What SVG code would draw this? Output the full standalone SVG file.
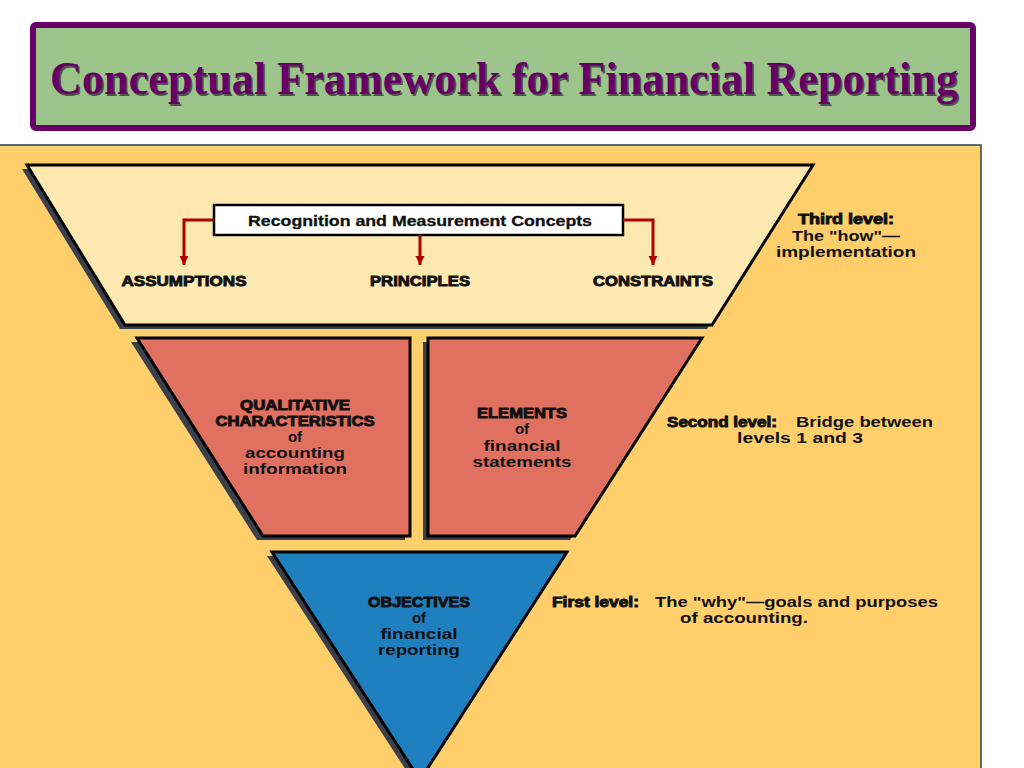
<svg xmlns="http://www.w3.org/2000/svg" width="1024" height="768" viewBox="0 0 1024 768">
  <defs>
    <style>
      .t { font-family: "Liberation Sans", Arial, sans-serif; font-weight: bold; fill: #111; text-anchor: middle; }
      .s { text-anchor: start; }
      .hv { stroke: #111; stroke-width: 0.9; }
      .shadow { fill: #3b3f4c; }
      .shape { stroke: #000; stroke-width: 3; stroke-linejoin: miter; }
      .conn { fill: none; stroke: #b00000; stroke-width: 3; }
      .title { font-family: "Liberation Serif", "Times New Roman", serif; font-weight: bold; font-size: 47px; text-anchor: middle; }
    </style>
    <marker id="arr" viewBox="0 0 10 10" refX="10" refY="5" markerUnits="userSpaceOnUse" markerWidth="9" markerHeight="11" orient="auto">
      <path d="M0,0 L10,5 L0,10 z" fill="#b00000"/>
    </marker>
  </defs>

  <rect x="0" y="0" width="1024" height="768" fill="#ffffff"/>

  <g id="title">
    <rect x="33" y="25" width="940" height="103" rx="3" fill="#9dc48b" stroke="#660066" stroke-width="6"/>
    <text class="title" x="505.5" y="95.5" fill="#333333" opacity="0.75" textLength="908" lengthAdjust="spacingAndGlyphs">Conceptual Framework for Financial Reporting</text>
    <text class="title" x="504" y="94" fill="#660066" textLength="908" lengthAdjust="spacingAndGlyphs">Conceptual Framework for Financial Reporting</text>
  </g>

  <g id="panel">
    <rect x="-2" y="145" width="983" height="630" fill="#fecf6a" stroke="#23474f" stroke-width="1.5"/>
  </g>

  <g id="node-third-level">
    <polygon class="shadow" points="22,169 808,169 707,329 120,329"/>
    <polygon class="shape" points="27,165 813,165 712,325 125,325" fill="#fde8b0"/>
    <g id="node-recognition">
      <rect x="214" y="205" width="409" height="30" fill="#ffffff" stroke="#000" stroke-width="2.5"/>
      <text class="t" x="420" y="226" font-size="14.5" stroke="#111" stroke-width="0.3" textLength="344" lengthAdjust="spacingAndGlyphs">Recognition and Measurement Concepts</text>
    </g>
    <text id="node-assumptions" class="t hv" x="184" y="286" font-size="15" textLength="125" lengthAdjust="spacingAndGlyphs">ASSUMPTIONS</text>
    <text id="node-principles" class="t hv" x="420" y="286" font-size="15" textLength="100" lengthAdjust="spacingAndGlyphs">PRINCIPLES</text>
    <text id="node-constraints" class="t hv" x="653" y="286" font-size="15" textLength="120" lengthAdjust="spacingAndGlyphs">CONSTRAINTS</text>
  </g>

  <g id="connectors">
    <path class="conn" d="M214,220 H184 V265" marker-end="url(#arr)"/>
    <path class="conn" d="M420,235 V265" marker-end="url(#arr)"/>
    <path class="conn" d="M623,220 H653 V265" marker-end="url(#arr)"/>
  </g>

  <g id="node-qualitative">
    <polygon class="shadow" points="131,342 405,342 405,540 257,540"/>
    <polygon class="shape" points="137,338 410,338 410,536 263,536" fill="#e0705f"/>
    <text class="t hv" x="295" y="410" font-size="14" textLength="110" lengthAdjust="spacingAndGlyphs">QUALITATIVE</text>
    <text class="t hv" x="295" y="426" font-size="14" textLength="159" lengthAdjust="spacingAndGlyphs">CHARACTERISTICS</text>
    <text class="t" x="295" y="442" font-size="15">of</text>
    <text class="t" x="295" y="458" font-size="15" textLength="100" lengthAdjust="spacingAndGlyphs">accounting</text>
    <text class="t" x="295" y="474" font-size="15" textLength="104" lengthAdjust="spacingAndGlyphs">information</text>
  </g>

  <g id="node-elements">
    <polygon class="shadow" points="423,342 697,342 570,540 423,540"/>
    <polygon class="shape" points="428,338 702,338 575,536 428,536" fill="#e0705f"/>
    <text class="t hv" x="522" y="418" font-size="14" textLength="90" lengthAdjust="spacingAndGlyphs">ELEMENTS</text>
    <text class="t" x="522" y="434" font-size="15">of</text>
    <text class="t" x="522" y="451" font-size="15" textLength="77" lengthAdjust="spacingAndGlyphs">financial</text>
    <text class="t" x="522" y="467" font-size="15" textLength="99" lengthAdjust="spacingAndGlyphs">statements</text>
  </g>

  <g id="node-objectives">
    <polygon class="shadow" points="267,556 562,556 415,784"/>
    <polygon class="shape" points="272,552 567,552 420,780" fill="#1f80c0"/>
    <text class="t hv" x="419" y="607" font-size="14" textLength="102" lengthAdjust="spacingAndGlyphs">OBJECTIVES</text>
    <text class="t" x="419" y="623" font-size="15">of</text>
    <text class="t" x="419" y="639" font-size="15" textLength="77" lengthAdjust="spacingAndGlyphs">financial</text>
    <text class="t" x="419" y="655" font-size="15" textLength="82" lengthAdjust="spacingAndGlyphs">reporting</text>
  </g>

  <g id="level-labels">
    <text class="t hv" x="846" y="224" font-size="14" textLength="96" lengthAdjust="spacingAndGlyphs">Third level:</text>
    <text class="t" x="846" y="241" font-size="14.5" textLength="108" lengthAdjust="spacingAndGlyphs">The "how"—</text>
    <text class="t" x="846" y="257" font-size="14.5" textLength="140" lengthAdjust="spacingAndGlyphs">implementation</text>

    <text class="t s hv" x="667" y="427" font-size="14" textLength="110" lengthAdjust="spacingAndGlyphs">Second level:</text>
    <text class="t s" x="796" y="427" font-size="14.5" textLength="137" lengthAdjust="spacingAndGlyphs">Bridge between</text>
    <text class="t" x="800" y="443" font-size="14.5" textLength="126" lengthAdjust="spacingAndGlyphs">levels 1 and 3</text>

    <text class="t s hv" x="552" y="607" font-size="14" textLength="87" lengthAdjust="spacingAndGlyphs">First level:</text>
    <text class="t s" x="655" y="607" font-size="14.5" textLength="283" lengthAdjust="spacingAndGlyphs">The "why"—goals and purposes</text>
    <text class="t" x="744" y="623" font-size="14.5" textLength="128" lengthAdjust="spacingAndGlyphs">of accounting.</text>
  </g>
</svg>
